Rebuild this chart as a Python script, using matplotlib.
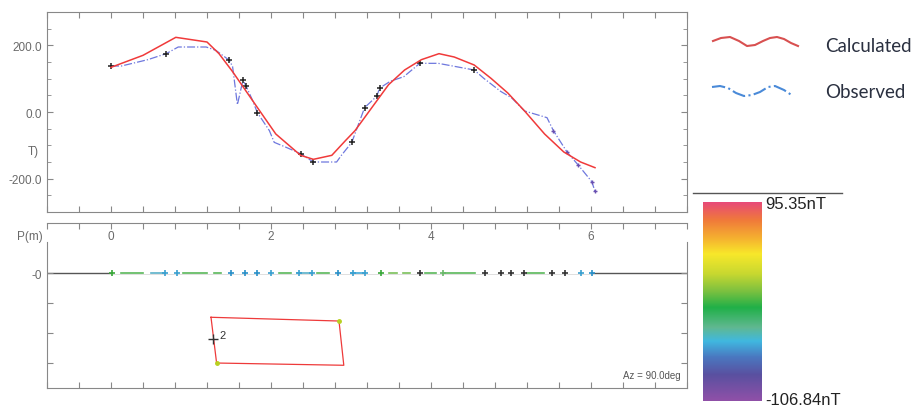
import matplotlib
matplotlib.use("Agg")
import matplotlib.pyplot as plt
import numpy as np
from matplotlib.colors import LinearSegmentedColormap
from matplotlib.lines import Line2D

# calculated and observed anomaly (nT) along profile (m)
calc_x = [0.0, 0.4, 0.81, 1.2, 1.35, 1.52, 1.69, 1.86, 2.06, 2.37, 2.53, 2.76, 2.93, 3.05,
          3.26, 3.47, 3.67, 3.88, 4.1, 4.29, 4.54, 4.75, 4.96, 5.17, 5.42, 5.66, 5.87, 6.05]
calc_y = [134, 170, 224, 210, 175, 121, 62, 3, -66, -130, -142, -130, -86, -56,
          13, 82, 126, 157, 175, 165, 141, 101, 57, 3, -66, -120, -150, -167]

obs_x = [0.0, 0.13, 0.46, 0.69, 0.84, 1.19, 1.31, 1.48, 1.52, 1.58, 1.65, 1.69, 1.76, 1.83,
         1.98, 2.04, 2.18, 2.37, 2.53, 2.82, 2.88, 3.01, 3.17, 3.32, 3.36, 3.49, 3.66, 3.86,
         4.09, 4.54, 4.66, 4.87, 5.01, 5.17, 5.45, 5.53, 5.70, 5.84, 6.01, 6.05]
obs_y = [138, 138, 157, 175, 195, 195, 185, 155, 136, 22, 96, 77, 40, -2,
         -56, -91, -105, -125, -150, -150, -130, -91, 13, 47, 72, 92, 106, 146,
         146, 126, 101, 62, 42, 3, -17, -56, -120, -159, -209, -238]
obs_marks = [0, 3, 7, 10, 11, 13, 17, 18, 21, 22, 23, 24, 27, 29]
obs_marks2 = [35, 36, 37, 38, 39]

# stations on the surface line
sta_x = [0.01, 0.67, 0.83, 1.5, 1.68, 1.83, 2.0, 2.35, 2.51, 2.84, 3.03, 3.18, 3.37,
         3.86, 4.15, 4.67, 4.87, 5.0, 5.16, 5.51, 5.68, 5.87, 6.01]
sta_c = ["#3aa83a", "#3aa0d0", "#3aa0d0", "#2a90c8", "#2a90c8", "#2a90c8", "#3aa0d0",
         "#3aa0d0", "#3aa0d0", "#2a90c8", "#3aa0d0", "#3aa0d0", "#3aa83a",
         "#333333", "#6ab86a", "#333333", "#333333", "#333333", "#333333", "#333333",
         "#333333", "#3aa0d0", "#2a90c8"]
seg_x0 = [0.13, 0.5, 0.9, 1.29, 2.1, 2.33, 2.57, 3.0, 3.47, 3.65, 3.93, 4.15, 5.2]
seg_x1 = [0.40, 0.66, 1.2, 1.38, 2.25, 2.51, 2.72, 3.18, 3.57, 3.74, 4.06, 4.55, 5.41]
seg_c = ["#5ab85a", "#5ab0c8", "#5ab85a", "#5ab85a", "#5ab85a", "#5ab0c8", "#5ab85a",
         "#40a8d8", "#7ac05a", "#7ac05a", "#5ab85a", "#5ab85a", "#5ab85a"]

# body outline (profile m, elevation m)
body_x = [1.25, 2.85, 2.91, 1.32, 1.25]
body_z = [-0.59, -0.64, -1.23, -1.20, -0.59]

cb_colors = ["#e84a78", "#f07a3a", "#f5b030", "#f8e82a", "#c8d830", "#7ac040", "#20b048",
             "#60b890", "#40b8e0", "#4a78c0", "#5a50a0", "#9050a8"]
cb_pos = [0.0, 0.09, 0.18, 0.26, 0.36, 0.45, 0.53, 0.63, 0.70, 0.78, 0.87, 1.0]
cb_max, cb_min = 95.35, -106.84

plt.rcParams["font.family"] = ["Liberation Sans", "DejaVu Sans"]
W, H = 911, 410
fig = plt.figure(figsize=(W / 100, H / 100), dpi=100)
tick_col = "#6a6a6a"
spine_col = "#888888"

# top panel
ax = fig.add_axes([47 / W, 1 - 213 / H, 640 / W, 200 / H])
ax.plot(obs_x, obs_y, color="#5560d8", lw=0.9, ls="-.", alpha=0.85)
ax.plot([obs_x[i] for i in obs_marks], [obs_y[i] for i in obs_marks], ls="none",
        marker="+", ms=4, mew=1.1, color="#222222")
ax.plot([obs_x[i] for i in obs_marks2], [obs_y[i] for i in obs_marks2], ls="none",
        marker="+", ms=3.5, mew=1.0, color="#6a50b0")
ax.plot(calc_x, calc_y, color="#f03a3a", lw=1.1)
ax.set_xlim(-0.8, 7.2)
ax.set_ylim(-300, 300)
ax.set_xticks(np.arange(-0.8, 7.21, 0.4))
ax.set_xticklabels([])
ax.set_yticks([-200, 0, 200])
ax.set_yticklabels(["-200.0", "0.0", "200.0"])
ax.set_yticks(np.arange(-300, 301, 50), minor=True)
ax.tick_params(which="both", direction="in", top=True, right=True, length=4,
               color=spine_col, labelcolor=tick_col, labelsize=8.5)
ax.tick_params(which="minor", length=3)
ax.text(-0.012, -118, "T)", transform=ax.get_yaxis_transform(), ha="right", va="center",
        fontsize=8.5, color=tick_col)
for s in ax.spines.values():
    s.set_color(spine_col)

# bottom panel
ax2 = fig.add_axes([47 / W, 1 - 389 / H, 640 / W, 165 / H])
ax2.set_xlim(-0.8, 7.2)
ax2.set_ylim(-1.533, 0.667)
ax2.axhline(0, color="#555555", lw=1.0, zorder=1)
for x0, x1, c in zip(seg_x0, seg_x1, seg_c):
    ax2.plot([x0, x1], [0, 0], color=c, lw=1.2, zorder=2)
ax2.plot([0.01, 6.01], [0, 0], color="white", lw=1.6, zorder=1.5)
for x, c in zip(sta_x, sta_c):
    ax2.plot(x, 0, marker="+", ms=4.5, mew=1.2, color=c, zorder=3)
ax2.plot(body_x, body_z, color="#ee3a3a", lw=0.9)
ax2.plot([body_x[1], body_x[3]], [body_z[1], body_z[3]], ls="none", marker="o", ms=2.5,
         color="#b8d020")
ax2.plot(1.28, -0.88, marker="+", ms=7, color="#333333")
ax2.text(1.36, -0.83, "2", fontsize=8, color="#333333", va="center")
ax2.text(0.99, 0.05, "Az = 90.0deg", transform=ax2.transAxes, ha="right", va="bottom",
         fontsize=7, color="#555555")
ax2.set_xticks(np.arange(-0.8, 7.21, 0.4))
ax2.set_xticklabels([])
ax2.set_yticks([0, -0.4, -0.8, -1.2])
ax2.set_yticklabels(["-0", "", "", ""])
ax2.tick_params(direction="in", top=True, right=True, length=4, color=spine_col,
                labelcolor=tick_col, labelsize=8.5)
for v in [0, 2, 4, 6]:
    ax2.text(v, 0.49, str(v), ha="center", va="center", fontsize=8.5, color=tick_col)
ax2.text(-0.006, 0.49, "P(m)", transform=ax2.get_yaxis_transform(), ha="right",
         va="center", fontsize=8.5, color=tick_col)
for s in ax2.spines.values():
    s.set_color(spine_col)
ax2.spines["left"].set_bounds(-1.533, 0.413)
ax2.spines["right"].set_bounds(-1.533, 0.413)

# colour scale
cmap = LinearSegmentedColormap.from_list("anom", list(zip(cb_pos, cb_colors)))
cax = fig.add_axes([703 / W, 1 - 402 / H, 59 / W, 199 / H])
cax.imshow(np.linspace(0, 1, 256)[:, None], aspect="auto", cmap=cmap,
           extent=[0, 1, cb_min, cb_max], origin="upper")
cax.set_axis_off()
fig.add_artist(Line2D([693 / W, 842 / W], [1 - 194 / H] * 2, color="#555555", lw=1.0))
fig.text(765 / W, 1 - 197 / H, "%.2fnT" % cb_max, ha="left", va="top", fontsize=12,
         color="#222222")
fig.text(765 / W, 1 - 401 / H, "%.2fnT" % cb_min, ha="left", va="center", fontsize=12,
         color="#222222")

# legend
red_px = [(713, 42), (721, 39), (730, 38), (739, 42), (747, 47), (755, 46), (763, 42),
          (770, 39), (777, 38), (784, 40), (791, 44), (798, 47)]
blue_px = [(712, 88), (720, 87), (728, 89), (736, 94), (744, 97), (752, 96), (760, 93),
           (768, 88), (775, 87), (784, 91), (793, 97)]
fig.add_artist(Line2D([p[0] / W for p in red_px], [1 - p[1] / H for p in red_px],
                      color="#d85050", lw=1.5))
fig.add_artist(Line2D([p[0] / W for p in blue_px], [1 - p[1] / H for p in blue_px],
                      color="#4a8ad8", lw=1.5, ls="-."))
fig.text(825 / W, 1 - 47 / H, "Calculated", ha="left", va="center", fontsize=13.5,
         family="Lato", color="#2a3040")
fig.text(825 / W, 1 - 93 / H, "Observed", ha="left", va="center", fontsize=13.5,
         family="Lato", color="#2a3040")

fig.savefig("out.png", dpi=100)
